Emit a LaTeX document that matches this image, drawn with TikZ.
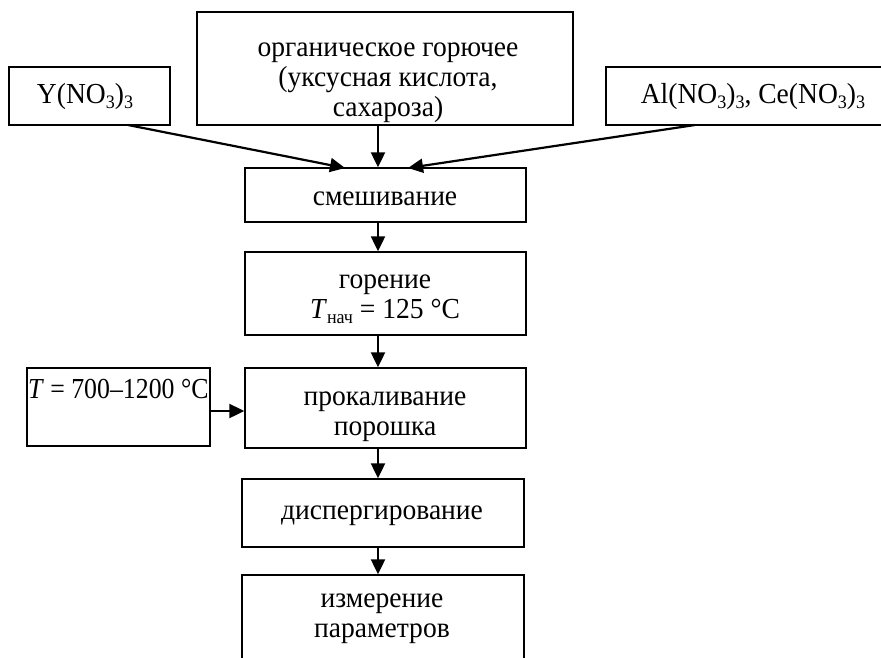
\documentclass[tikz,border=0pt]{standalone}
\usepackage{fontspec}
\setmainfont[FakeStretch=0.95]{Liberation Serif}
\newfontfamily\tnarrow[FakeStretch=0.89]{Liberation Serif}
\usetikzlibrary{arrows.meta,calc}
\newcommand{\sbx}[1]{\raisebox{-5pt}{\fontsize{19}{19}\selectfont #1}}
\begin{document}
\begin{tikzpicture}[x=1pt,y=-1pt,
  box/.style={draw, line width=1.4pt, inner sep=0pt},
  txt/.style={inner sep=0pt, align=center, anchor=base,
    font=\fontsize{29}{30}\selectfont},
  arr/.style={line width=2.2pt, -{Triangle[length=15pt,width=14pt]}}]
\useasboundingbox (0,0) rectangle (881,657);
\clip (0,0) rectangle (881,657);
% boxes
\node[box, minimum width=376, minimum height=113] (org) at (385,68.5) {};
\node[box, minimum width=161, minimum height=58] (yn) at (89.5,96) {};
\node[box, minimum width=294, minimum height=58] (al) at (753,96) {};
\node[box, minimum width=281, minimum height=54] (mix) at (385.5,195) {};
\node[box, minimum width=281, minimum height=83] (gor) at (385.5,293.5) {};
\node[box, minimum width=281, minimum height=80] (prok) at (385.5,408) {};
\node[box, minimum width=183, minimum height=78] (tb) at (118.5,407) {};
\node[box, minimum width=282, minimum height=68] (disp) at (383,513) {};
\node[box, minimum width=282, minimum height=110] (izm) at (383,630) {};
% texts (anchor base = baseline of the last line)
\node[txt] (orgt) at (388,116) {органическое горючее\\(уксусная кислота,\\сахароза)};
\node[txt] (ynt) at (85,103) {Y(NO\sbx{3})\sbx{3}};
\node[txt] (alt) at (753,103) {Al(NO\sbx{3})\sbx{3}, Ce(NO\sbx{3})\sbx{3}};
\node[txt] (mixt) at (385,205) {смешивание};
\node[txt] (gort) at (385,318) {горение\\\textit{T}\sbx{нач} = 125 °C};
\node[txt] (prokt) at (385,435) {прокаливание\\порошка};
\node[txt, anchor=base west] (tbt) at ($(tb.north west)+(1.5,31)$) {\tnarrow\textit{T} = 700–1200 °C};
\node[txt] (dispt) at (382,519) {диспергирование};
\node[txt] (izmt) at (382,637) {измерение\\параметров};
% connector coordinates
\coordinate (ax) at (378,0);
\coordinate (ys) at (128,125);
\coordinate (ye) at (345,168);
\coordinate (as) at (695,125);
\coordinate (ae) at (408,168);
% connectors
\draw[arr] (org.south -| ax) -- (mix.north -| ax);
\draw[arr] (ys) -- (ye);
\draw[arr] (as) -- (ae);
\draw[arr] (mix.south -| ax) -- (gor.north -| ax);
\draw[arr] (gor.south -| ax) -- (prok.north -| ax);
\draw[arr] (tb.east |- 0,411) -- (prok.west |- 0,411);
\draw[arr] (prok.south -| ax) -- (disp.north -| ax);
\draw[arr] (disp.south -| ax) -- (izm.north -| ax);
\end{tikzpicture}
\end{document}
